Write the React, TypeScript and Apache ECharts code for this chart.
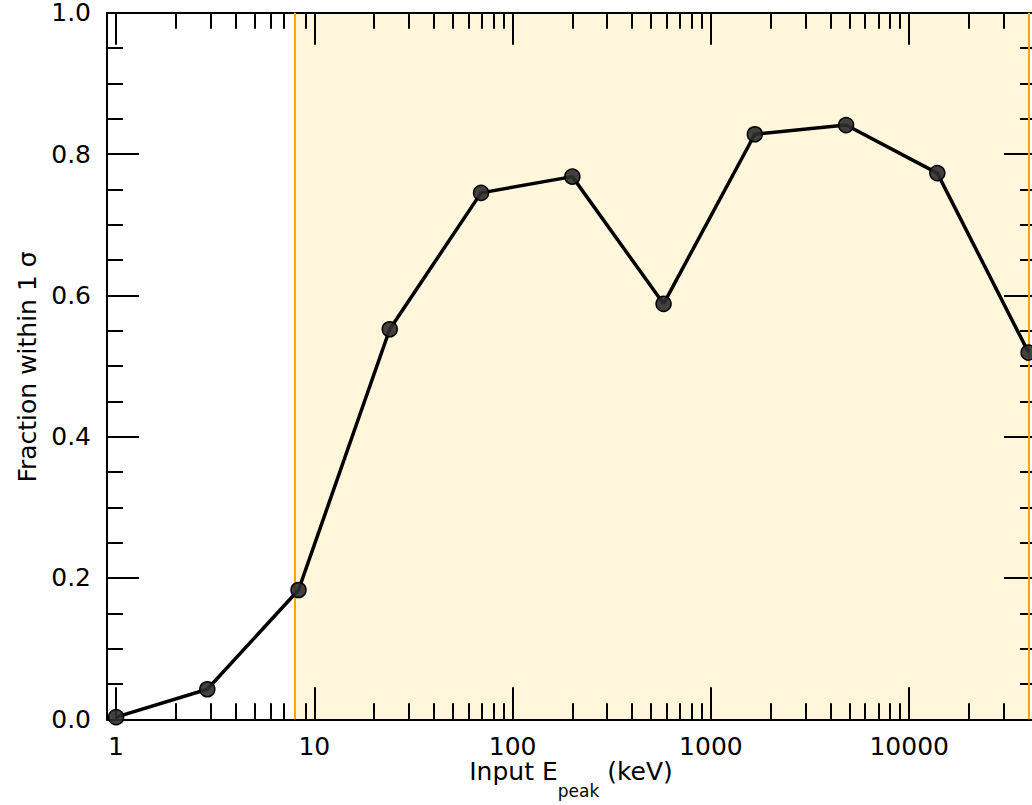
import React, { useEffect, useRef } from "react";
import * as echarts from "echarts";

// Input peak energies (keV) and the fraction of fits recovered within 1 sigma
const energies = [1, 2.885, 8.32, 24.0, 69.3, 200, 577, 1665, 4804, 13860, 40000];
const fractions = [0.003, 0.0425, 0.183, 0.552, 0.745, 0.768, 0.588, 0.828, 0.841, 0.773, 0.519];

// Log-axis tick positions
const majorTicksX = [1, 10, 100, 1000, 10000];
const minorTicksX = [
  2, 3, 4, 5, 6, 7, 8, 9,
  20, 30, 40, 50, 60, 70, 80, 90,
  200, 300, 400, 500, 600, 700, 800, 900,
  2000, 3000, 4000, 5000, 6000, 7000, 8000, 9000,
  20000, 30000, 40000,
];
const xLimits = [0.9, 43600];
const yLimits = [0, 1];
const yStep = 0.2;

// Energy band that is highlighted
const bandRange = [8, 40000];

const FONT = "DejaVu Sans";
const BLACK = "#000000";

function xAxisDef(position: "top" | "bottom", ticks: number[], len: number, showLine: boolean, showLabel: boolean) {
  return {
    type: "log",
    logBase: 10,
    min: xLimits[0],
    max: xLimits[1],
    position,
    z: 3,
    axisLine: { show: showLine, lineStyle: { color: BLACK, width: 2 } },
    axisTick: { show: true, inside: true, length: len, customValues: ticks, lineStyle: { color: BLACK, width: 2 } },
    axisLabel: {
      show: showLabel,
      customValues: ticks,
      formatter: (v: number) => String(Math.round(v)),
      fontSize: 25,
      fontFamily: FONT,
      color: BLACK,
      margin: 15,
    },
    splitLine: { show: false },
    minorTick: { show: false },
    minorSplitLine: { show: false },
  };
}

function yAxisDef(position: "left" | "right", showLabel: boolean) {
  return {
    type: "value",
    min: yLimits[0],
    max: yLimits[1],
    interval: yStep,
    position,
    z: 3,
    axisLine: { show: true, lineStyle: { color: BLACK, width: 2 } },
    axisTick: { show: true, inside: true, length: 32, lineStyle: { color: BLACK, width: 2 } },
    minorTick: { show: true, splitNumber: 4, length: 16, lineStyle: { color: BLACK, width: 2 } },
    axisLabel: {
      show: showLabel,
      formatter: (v: number) => v.toFixed(1),
      fontSize: 25,
      fontFamily: FONT,
      color: BLACK,
      margin: 16,
    },
    splitLine: { show: false },
    minorSplitLine: { show: false },
  };
}

// Width of a string in the given font, for laying out the subscripted axis title
function textWidth(text: string, size: number): number {
  const ctx = document.createElement("canvas").getContext("2d");
  if (!ctx) return text.length * size * 0.6;
  ctx.font = `${size}px "${FONT}"`;
  return ctx.measureText(text).width;
}

export default function App() {
  const ref = useRef<HTMLDivElement>(null);

  useEffect(() => {
    if (!ref.current) return;
    const chart = echarts.init(ref.current, undefined, { renderer: "svg" });
    const points = energies.map((e, i) => [e, fractions[i]]);

    // x-axis title: "Input E" + subscript "peak" + " (keV)"
    const titleParts = [
      { text: "Input E", size: 25, mid: 771.5 },
      { text: "peak", size: 17, mid: 791 },
      { text: " (keV)", size: 25, mid: 771.5 },
    ];
    const widths = titleParts.map((p) => textWidth(p.text, p.size));
    const total = widths.reduce((a, b) => a + b, 0);
    let cursor = 571 - total / 2;
    const titleTexts = titleParts.map((p, i) => {
      const el = {
        type: "text",
        x: cursor,
        y: p.mid,
        style: {
          text: p.text,
          fontSize: p.size,
          fontFamily: FONT,
          fill: BLACK,
          align: "left",
          verticalAlign: "middle",
        },
      };
      cursor += widths[i];
      return el;
    });

    chart.setOption({
      animation: false,
      backgroundColor: "#ffffff",
      grid: { left: 107, top: 12.7, right: -4, bottom: 85.7, containLabel: false, outerBoundsMode: "none" },
      xAxis: [
        xAxisDef("bottom", majorTicksX, 32, true, true),
        xAxisDef("bottom", minorTicksX, 16, false, false),
        xAxisDef("top", majorTicksX, 32, true, false),
        xAxisDef("top", minorTicksX, 16, false, false),
      ],
      yAxis: [yAxisDef("left", true), yAxisDef("right", false)],
      series: [
        {
          type: "line",
          data: [],
          z: 1,
          silent: true,
          markArea: {
            silent: true,
            itemStyle: { color: "#FFF6DC", opacity: 1, borderWidth: 0 },
            label: { show: false },
            data: [[{ xAxis: bandRange[0] }, { xAxis: bandRange[1] }]],
          },
          markLine: {
            silent: true,
            symbol: ["none", "none"],
            label: { show: false },
            lineStyle: { color: "#FFA500", width: 2, type: "solid" },
            data: [{ xAxis: bandRange[0] }, { xAxis: bandRange[1] }],
          },
        },
        {
          type: "line",
          data: points,
          z: 5,
          symbol: "circle",
          symbolSize: 15,
          lineStyle: { color: BLACK, width: 3.5 },
          itemStyle: { color: "rgba(45,45,45,0.9)", borderColor: BLACK, borderWidth: 1.5 },
        },
      ],
      graphic: [
        {
          type: "text",
          x: 27,
          y: 367,
          rotation: Math.PI / 2,
          style: {
            text: "Fraction within 1 σ",
            fontSize: 25,
            fontFamily: FONT,
            fill: BLACK,
            align: "center",
            verticalAlign: "middle",
          },
        },
        ...titleTexts,
      ],
    });

    return () => chart.dispose();
  }, []);

  return (
    <div style={{ position: "absolute", left: 0, top: 0, width: 1032, height: 805, overflow: "hidden", background: "#fff" }}>
      <div ref={ref} style={{ width: 1032, height: 805 }} />
    </div>
  );
}
